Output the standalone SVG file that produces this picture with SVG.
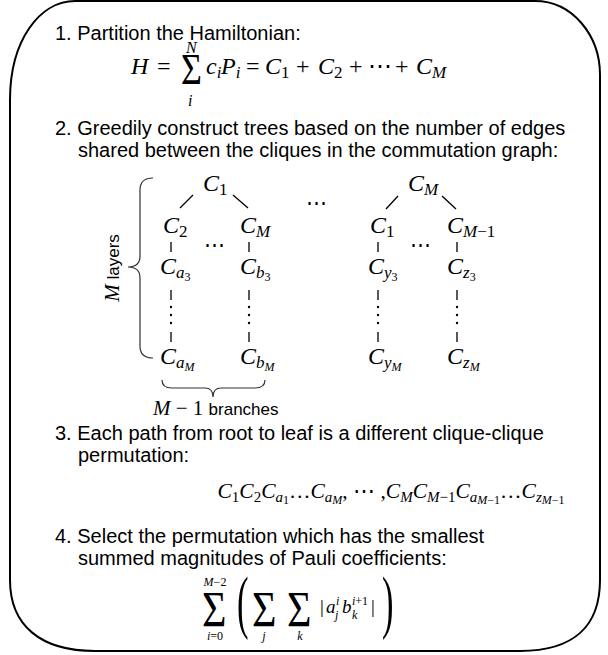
<svg xmlns="http://www.w3.org/2000/svg" width="608" height="655" viewBox="0 0 608 655">
<style>
.t{font-family:"Liberation Sans",Arial,sans-serif;font-size:20px;fill:#000}
.m{font-family:"Liberation Serif","Times New Roman",serif;font-size:24px;fill:#000}
.i{font-style:italic}
.s{font-size:17px}
.ss{font-size:12px}
.ln{stroke:#000;stroke-width:1.3;fill:none}
.br{stroke:#333;stroke-width:1.2;fill:none}
</style>
<rect width="608" height="655" fill="#fff"/>
<path id="frame" d="M10,100 C10,40 40,1 75,1 L535,1 C572,1 600,35 600,75 L600,580 C600,625 575,651 520,651 L95,651 C40,651 10,625 10,580 Z" fill="none" stroke="#000" stroke-width="2"/>

<g id="step1">
<text class="t" x="55" y="40">1. Partition the Hamiltonian:</text>
<text class="m i" x="131" y="74">H</text>
<text class="m" x="157" y="74">=</text>
<text class="m" transform="translate(181,84) scale(1,1.22)" style="font-size:36px">Σ</text>
<text class="m i" x="186" y="53" style="font-size:16px">N</text>
<text class="m i" x="188" y="106" style="font-size:16px">i</text>
<text class="m i" x="206" y="74">c<tspan class="s" dy="4">i</tspan></text>
<text class="m i" x="221" y="74">P<tspan class="s" dy="4">i</tspan></text>
<text class="m" x="246" y="74">=</text>
<text class="m" x="265" y="74"><tspan class="i">C</tspan><tspan class="s" dy="4">1</tspan></text>
<text class="m" x="296" y="74">+</text>
<text class="m" x="318" y="74"><tspan class="i">C</tspan><tspan class="s" dy="4">2</tspan></text>
<text class="m" x="349" y="74">+</text>
<text class="m" x="368" y="74">⋯</text>
<text class="m" x="395" y="74">+</text>
<text class="m" x="416" y="74"><tspan class="i">C</tspan><tspan class="s i" dy="4">M</tspan></text>
</g>

<g id="step2">
<text class="t" x="55" y="135">2. Greedily construct trees based on the number of edges</text>
<text class="t" x="78" y="157">shared between the cliques in the commutation graph:</text>
</g>

<g id="tree1">
<g id="t1-root"><text class="m" x="203" y="191"><tspan class="i">C</tspan><tspan class="s" dy="4">1</tspan></text></g>
<g id="t1-c2"><text class="m" x="163" y="233"><tspan class="i">C</tspan><tspan class="s" dy="4">2</tspan></text></g>
<g id="t1-cM"><text class="m" x="240" y="233"><tspan class="i">C</tspan><tspan class="s i" dy="4">M</tspan></text></g>
<g id="t1-ca3"><text class="m" x="160" y="274"><tspan class="i">C</tspan><tspan class="s i" dy="4">a</tspan><tspan class="ss" dy="3">3</tspan></text></g>
<g id="t1-cb3"><text class="m" x="240" y="274"><tspan class="i">C</tspan><tspan class="s i" dy="4">b</tspan><tspan class="ss" dy="3">3</tspan></text></g>
<g id="t1-caM"><text class="m" x="160" y="364"><tspan class="i">C</tspan><tspan class="s i" dy="4">a</tspan><tspan class="ss i" dy="3">M</tspan></text></g>
<g id="t1-cbM"><text class="m" x="240" y="364"><tspan class="i">C</tspan><tspan class="s i" dy="4">b</tspan><tspan class="ss i" dy="3">M</tspan></text></g>
<text class="m" x="204" y="252" style="font-size:21px">⋯</text>
</g>

<g id="tree2">
<g id="t2-root"><text class="m" x="408" y="191"><tspan class="i">C</tspan><tspan class="s i" dy="4">M</tspan></text></g>
<g id="t2-c1"><text class="m" x="370" y="233"><tspan class="i">C</tspan><tspan class="s" dy="4">1</tspan></text></g>
<g id="t2-cM1"><text class="m" x="447" y="233"><tspan class="i">C</tspan><tspan class="s i" dy="4">M</tspan><tspan class="s">−1</tspan></text></g>
<g id="t2-cy3"><text class="m" x="368" y="274"><tspan class="i">C</tspan><tspan class="s i" dy="4">y</tspan><tspan class="ss" dy="3">3</tspan></text></g>
<g id="t2-cz3"><text class="m" x="447" y="274"><tspan class="i">C</tspan><tspan class="s i" dy="4">z</tspan><tspan class="ss" dy="3">3</tspan></text></g>
<g id="t2-cyM"><text class="m" x="368" y="364"><tspan class="i">C</tspan><tspan class="s i" dy="4">y</tspan><tspan class="ss i" dy="3">M</tspan></text></g>
<g id="t2-czM"><text class="m" x="447" y="364"><tspan class="i">C</tspan><tspan class="s i" dy="4">z</tspan><tspan class="ss i" dy="3">M</tspan></text></g>
<text class="m" x="410" y="252" style="font-size:21px">⋯</text>
</g>

<text class="m" x="306" y="210" style="font-size:21px">⋯</text>

<g id="connectors">
<path class="ln" d="M180,208 L193,195 M233,195 L248,208 M171,242 V252 M249,242 V252 M171,290 V300 M249,290 V300 M171,332 V342 M249,332 V342"/>
<path class="ln" d="M386,209 L398,196 M442,196 L456,209 M378,242 V252 M457,242 V252 M378,290 V300 M457,290 V300 M378,332 V342 M457,332 V342"/>
<g fill="#000">
<circle cx="171" cy="307" r="1.2"/><circle cx="171" cy="315" r="1.2"/><circle cx="171" cy="323" r="1.2"/>
<circle cx="249" cy="307" r="1.2"/><circle cx="249" cy="315" r="1.2"/><circle cx="249" cy="323" r="1.2"/>
<circle cx="378" cy="307" r="1.2"/><circle cx="378" cy="315" r="1.2"/><circle cx="378" cy="323" r="1.2"/>
<circle cx="457" cy="307" r="1.2"/><circle cx="457" cy="315" r="1.2"/><circle cx="457" cy="323" r="1.2"/>
</g>
</g>

<g id="braces">
<path class="br" d="M153,178 C144,178 140,182 140,190 L140,256 C140,263 136,267 128,267 C136,267 140,271 140,278 L140,346 C140,354 144,358 153,358"/>
<text transform="translate(119,268) rotate(-90)" text-anchor="middle"><tspan class="m i" style="font-size:21px">M</tspan><tspan class="t" style="font-size:17px"> layers</tspan></text>
<path class="br" d="M162,380 C162,386 166,388 172,388 L205,388 C210,388 213,391 213,397 C213,391 216,388 221,388 L255,388 C261,388 265,386 265,380"/>
<text x="153" y="415"><tspan class="m i" style="font-size:21px">M</tspan><tspan class="m" style="font-size:21px"> − 1 </tspan><tspan class="t" style="font-size:17px">branches</tspan></text>
</g>

<g id="step3">
<text class="t" x="55" y="440">3. Each path from root to leaf is a different clique-clique</text>
<text class="t" x="78" y="462">permutation:</text>
<text class="m" x="391" y="498" text-anchor="middle" style="font-size:21.5px"><tspan class="i">C</tspan><tspan style="font-size:15px" dy="4">1</tspan><tspan class="i" dy="-4">C</tspan><tspan style="font-size:15px" dy="4">2</tspan><tspan class="i" dy="-4">C</tspan><tspan class="i" style="font-size:15px" dy="4">a</tspan><tspan class="ss" dy="2">1</tspan><tspan dy="-6">…</tspan><tspan class="i">C</tspan><tspan class="i" style="font-size:15px" dy="4">a</tspan><tspan class="ss i" dy="2">M</tspan><tspan dy="-6">, ⋯ ,</tspan><tspan class="i">C</tspan><tspan class="i" style="font-size:15px" dy="4">M</tspan><tspan class="i" dy="-4">C</tspan><tspan class="i" style="font-size:15px" dy="4">M</tspan><tspan style="font-size:15px">−1</tspan><tspan class="i" dy="-4">C</tspan><tspan class="i" style="font-size:15px" dy="4">a</tspan><tspan class="ss i" dy="2">M</tspan><tspan class="ss">−1</tspan><tspan dy="-6">…</tspan><tspan class="i">C</tspan><tspan class="i" style="font-size:15px" dy="4">z</tspan><tspan class="ss i" dy="2">M</tspan><tspan class="ss">−1</tspan></text>
</g>

<g id="step4">
<text class="t" x="55" y="543">4. Select the permutation which has the smallest</text>
<text class="t" x="78" y="565">summed magnitudes of Pauli coefficients:</text>
<text class="m" transform="translate(202,626) scale(1,1.2)" style="font-size:42px">Σ</text>
<text class="m i" x="215" y="586" text-anchor="middle" style="font-size:12px">M<tspan font-style="normal">−2</tspan></text>
<text class="m i" x="215" y="640" text-anchor="middle" style="font-size:12px">i<tspan font-style="normal">=0</tspan></text>
<text class="m" transform="translate(237,625) scale(0.75,1.5)" style="font-size:46px">(</text>
<text class="m" transform="translate(252,626) scale(1,1.2)" style="font-size:42px">Σ</text>
<text class="m i" x="264" y="640" text-anchor="middle" style="font-size:12px">j</text>
<text class="m" transform="translate(287,626) scale(1,1.2)" style="font-size:42px">Σ</text>
<text class="m i" x="300" y="640" text-anchor="middle" style="font-size:12px">k</text>
<text class="m" x="320" y="613" style="font-size:19px">|</text>
<text class="m i" x="326" y="613" style="font-size:19px">a</text>
<text class="m i" x="336" y="605" style="font-size:12px">i</text>
<text class="m i" x="335" y="619" style="font-size:12px">j</text>
<text class="m i" x="342" y="613" style="font-size:19px">b</text>
<text class="m" x="352" y="605" style="font-size:12px"><tspan class="i">i</tspan>+1</text>
<text class="m i" x="352" y="619" style="font-size:12px">k</text>
<text class="m" x="371" y="613" style="font-size:19px">|</text>
<text class="m" transform="translate(382,625) scale(0.75,1.5)" style="font-size:46px">)</text>
</g>
</svg>
